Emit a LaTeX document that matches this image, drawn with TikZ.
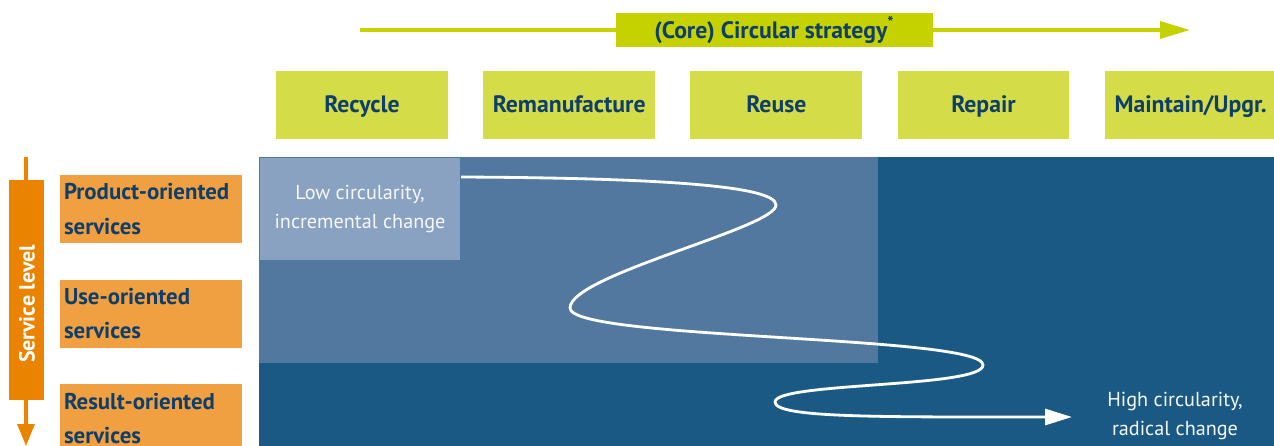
\documentclass[tikz,border=0pt]{standalone}
\usepackage{fontspec}
\setmainfont{PT Sans}
\usetikzlibrary{positioning,arrows.meta,calc}
\definecolor{LIMEDARK}{HTML}{C6D200}
\definecolor{LIMELIGHT}{HTML}{D4DC48}
\definecolor{NAVYTEXT}{HTML}{0E3E6B}
\definecolor{BLUEDARK}{HTML}{1B5985}
\definecolor{BLUEMID}{HTML}{52789F}
\definecolor{BLUELIGHT}{HTML}{8AA2C1}
\definecolor{ORANGELIGHT}{HTML}{F0A040}
\definecolor{ORANGEDARK}{HTML}{E98300}
\tikzstyle{STRATEGY} = [rectangle, fill=LIMELIGHT, text=NAVYTEXT, font=\bfseries\fontsize{13.5}{16}\selectfont, minimum width=3.44cm, minimum height=1.36cm, text height=0.9em, text depth=0.06em, inner sep=0pt]
\tikzstyle{SERVICE} = [rectangle, fill=ORANGELIGHT, text=NAVYTEXT, font=\bfseries\fontsize{13}{19.5}\selectfont, minimum height=1.36cm, text width=3.48cm, align=left, inner xsep=0.08cm, inner ysep=0pt]
\tikzstyle{AREA} = [rectangle, anchor=north west, inner sep=0pt]
\tikzstyle{NOTE} = [text=white!92!BLUELIGHT, align=center, font=\fontsize{11.5}{17}\selectfont]
\tikzstyle{AXIS} = [draw=LIMEDARK, line width=2pt, -{Triangle[length=0.6cm, width=0.34cm]}]
\tikzstyle{LEVEL} = [draw=ORANGEDARK, line width=2pt, -{Triangle[length=0.44cm, width=0.34cm]}]
\tikzstyle{PATHWAY} = [draw=white, line width=1.6pt, -{Triangle[length=0.54cm, width=0.32cm]}]

\begin{document}
\begin{tikzpicture}[x=0.02cm, y=-0.02cm, node distance=0.69cm]
\useasboundingbox (0,0) rectangle (1274,446);
% Circular strategy axis
\coordinate (axis start) at (360,30);
\coordinate (axis end) at (1190,30);
\path [AXIS] (axis start) -- (axis end);
\node [rectangle, fill=LIMEDARK, text=NAVYTEXT, font=\bfseries\fontsize{13.5}{16}\selectfont, minimum width=6.34cm, minimum height=0.68cm, inner sep=0pt] (strategy) at (774.5,30) {(Core) Circular strategy\textsuperscript{*}};
% Strategies
\node [STRATEGY] (recycle) at (362,105) {Recycle};
\node [STRATEGY, right=of recycle] (remanufacture) {Remanufacture};
\node [STRATEGY, right=of remanufacture] (reuse) {Reuse};
\node [STRATEGY, right=of reuse] (repair) {Repair};
\node [STRATEGY, right=of repair] (maintain) {Maintain/Upgr.};
% Service level axis
\coordinate (level start) at (26,157);
\coordinate (level end) at (26,446);
\path [LEVEL] (level start) -- (level end);
\node [rectangle, fill=ORANGEDARK, rotate=90, minimum width=4.4cm, minimum height=0.7cm, inner sep=0pt] (level) at (26.5,290) {};
\node [text=white, rotate=90, font=\bfseries\fontsize{12.5}{15}\selectfont, inner sep=0pt] (level text) at (27,304) {Service level};
% Services
\node [SERVICE] (product) at (151,209) {Product-oriented\\services};
\node [SERVICE, below=0.72cm of product] (use) {Use-oriented\\services};
\node [SERVICE, below=0.72cm of use] (result) {Result-oriented\\services};
% Circularity areas
\node [AREA, fill=BLUEDARK, minimum width=20.3cm, minimum height=5.78cm] (high zone) at (259,157) {};
\node [AREA, fill=BLUEMID, minimum width=12.38cm, minimum height=4.12cm] (mid zone) at (259,157) {};
\node [AREA, fill=BLUELIGHT, draw=BLUEDARK!80, line width=0.6pt, minimum width=4.02cm, minimum height=2.06cm] (low) at (259,157) {};
\node [NOTE] (low text) at (low) {Low circularity,\\incremental change};
\node [NOTE] (high text) at (1175,416) {High circularity,\\radical change};
% Pathway
\coordinate (path start) at ($(low.north east)+(0,20)$);
\coordinate (path end) at (1072,417);
\path [PATHWAY] (path start) .. controls (650,178) and (776,185) .. (776,205)
  .. controls (776,228) and (570,275) .. (570,308)
  .. controls (570,340) and (983,335) .. (983,365)
  .. controls (983,388) and (775,382) .. (775,402)
  .. controls (775,418) and (880,417) .. (path end);
\end{tikzpicture}
\end{document}
